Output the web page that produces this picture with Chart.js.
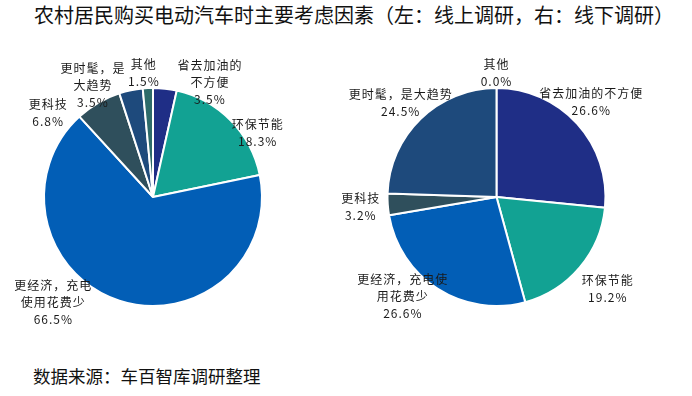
<!DOCTYPE html>
<html>
<head>
<meta charset="utf-8">
<script src="https://cdn.jsdelivr.net/npm/chart.js@4"></script>
<style>
  body { margin: 0; background: #fff; width: 692px; height: 396px; position: relative; overflow: hidden; font-family: "Noto Sans CJK SC", sans-serif; }
  #title { position: absolute; left: 34px; top: 0px; font-size: 20px; color: #111; white-space: nowrap; }
  #source { position: absolute; left: 33px; top: 363px; font-size: 17.5px; color: #111; white-space: nowrap; }
  .box { position: absolute; top: 40px; height: 320px; }
</style>
</head>
<body>
<div id="title">农村居民购买电动汽车时主要考虑因素（左：线上调研，右：线下调研）</div>
<div class="box" style="left:0;width:310px"><canvas id="left"></canvas></div>
<div class="box" style="left:340px;width:340px"><canvas id="right"></canvas></div>
<div id="source">数据来源：车百智库调研整理</div>
<script>
const categories = ['省去加油的不方便', '环保节能', '更经济，充电使用花费少', '更科技', '更时髦，是大趋势', '其他'];
const onlineValues = [3.5, 18.3, 66.5, 6.8, 3.5, 1.5];
const offlineValues = [26.6, 19.2, 26.6, 3.2, 24.5, 0.0];
const sliceColors = ['#1f2e86', '#12a293', '#025eb6', '#2f4f5c', '#1e4a7c', '#2d6b6a'];

// label line breaks as in the picture
const onlineLines = [['省去加油的', '不方便'], ['环保节能'], ['更经济，充电', '使用花费少'], ['更科技'], ['更时髦，是', '大趋势'], ['其他']];
const offlineLines = [['省去加油的不方便'], ['环保节能'], ['更经济，充电使', '用花费少'], ['更科技'], ['更时髦，是大趋势'], ['其他']];

// label offsets from the slice's outer mid point
const onlineOffsets = [[45, -6], [27, 12], [-66, 2], [-50, 10], [-38, -5], [-4, -15]];
const offlineOffsets = [[14, -22], [28, 22], [-35, 8], [-27, 3], [-20, -16], [0, -15]];

const labelPlugin = {
  id: 'sliceLabels',
  afterDatasetsDraw(chart, args, opts) {
    const ctx = chart.ctx;
    const meta = chart.getDatasetMeta(0);
    const values = chart.data.datasets[0].data;
    ctx.save();
    ctx.font = '12px "Noto Sans CJK SC"';
    ctx.fillStyle = '#1a1a1a';
    ctx.textAlign = 'center';
    ctx.textBaseline = 'middle';
    if ('letterSpacing' in ctx) ctx.letterSpacing = '1px';
    meta.data.forEach((arc, i) => {
      const mid = (arc.startAngle + arc.endAngle) / 2;
      const x0 = arc.x + Math.cos(mid) * arc.outerRadius + opts.offsets[i][0];
      const y0 = arc.y + Math.sin(mid) * arc.outerRadius + opts.offsets[i][1];
      const lines = opts.lines[i].concat([values[i].toFixed(1) + '%']);
      const lh = 17;
      lines.forEach((t, j) => {
        ctx.fillText(t, x0, y0 + (j - (lines.length - 1) / 2) * lh);
      });
    });
    ctx.restore();
  }
};

function makePie(id, values, lines, offsets, padding) {
  new Chart(document.getElementById(id), {
    type: 'pie',
    data: {
      labels: categories,
      datasets: [{
        data: values,
        backgroundColor: sliceColors,
        borderColor: '#ffffff',
        borderWidth: 2
      }]
    },
    options: {
      responsive: true,
      maintainAspectRatio: false,
      animation: false,
      layout: { padding: padding },
      plugins: {
        legend: { display: false },
        tooltip: { enabled: false },
        sliceLabels: { lines: lines, offsets: offsets }
      }
    },
    plugins: [labelPlugin]
  });
}

makePie('left', onlineValues, onlineLines, onlineOffsets, { left: 43, right: 47, top: 47, bottom: 53 });
makePie('right', offlineValues, offlineLines, offlineOffsets, { left: 46.5, right: 73.5, top: 47, bottom: 53 });
</script>
</body>
</html>
